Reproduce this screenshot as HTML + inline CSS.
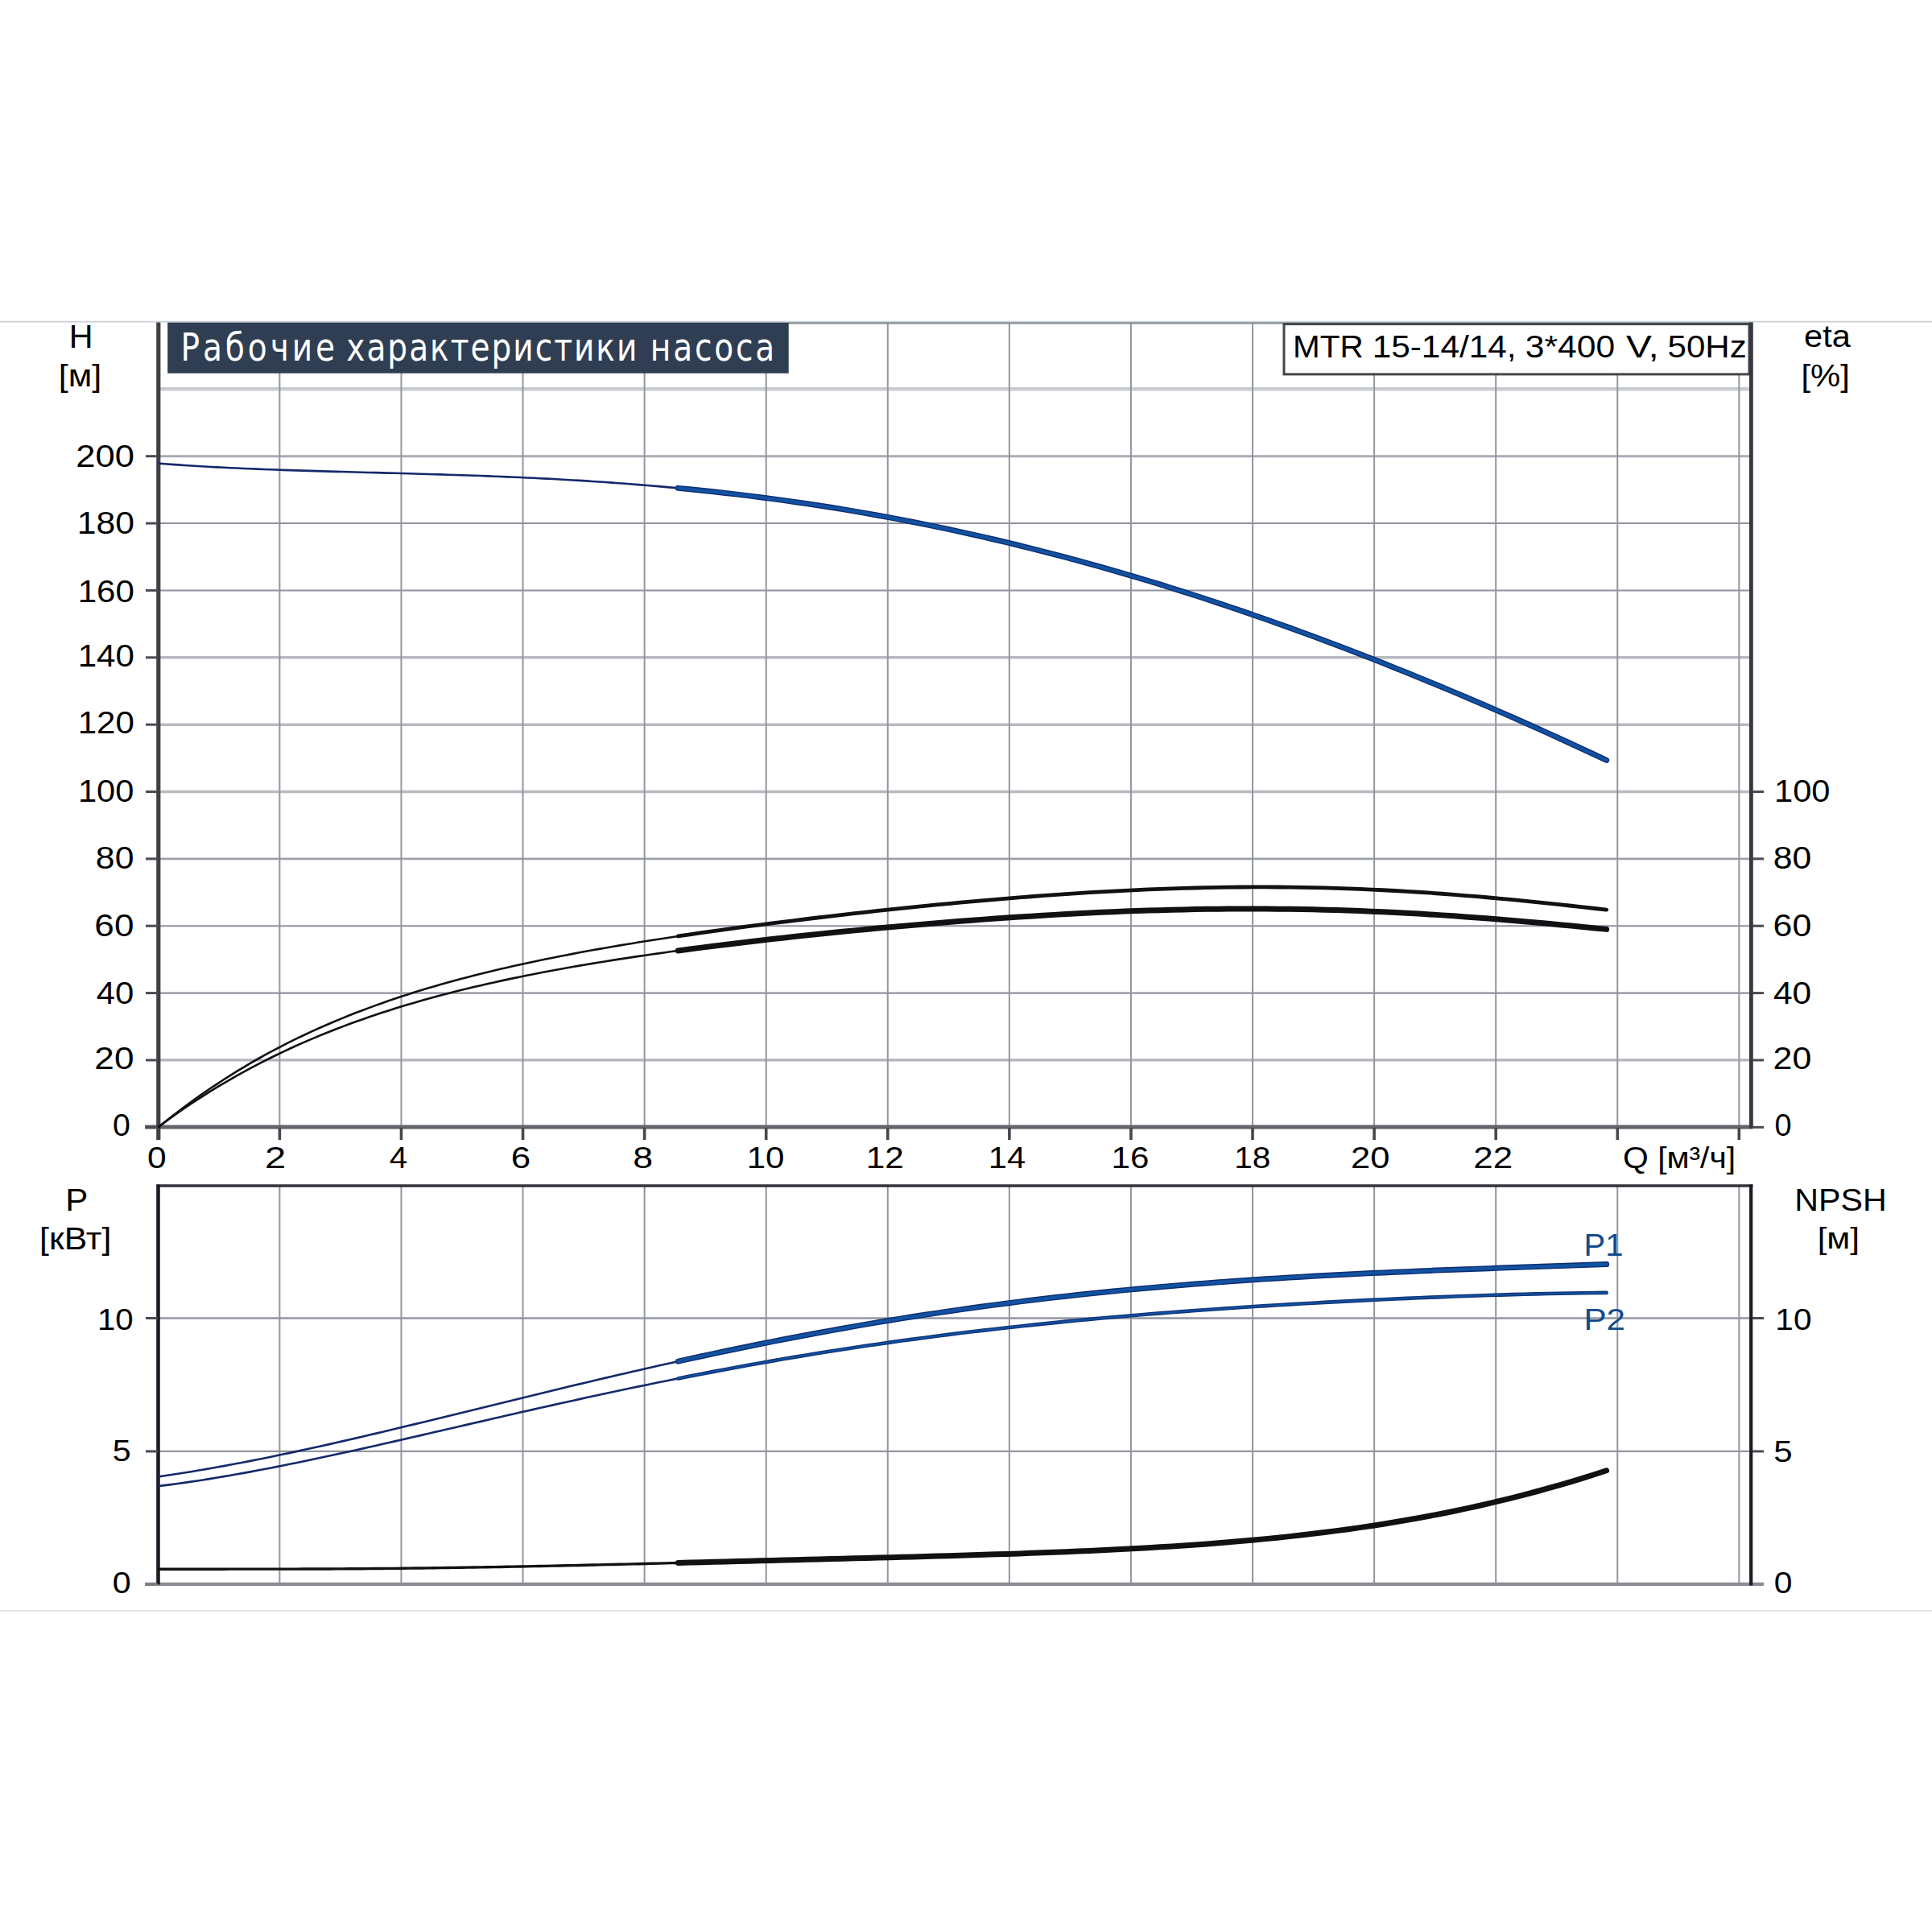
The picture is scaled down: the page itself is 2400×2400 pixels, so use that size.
<!DOCTYPE html>
<html lang="ru"><head><meta charset="utf-8"><title>Рабочие характеристики насоса</title>
<style>html,body{margin:0;padding:0;background:#fff;width:2400px;height:2400px;overflow:hidden}</style>
</head><body>
<svg width="2400" height="2400" viewBox="0 0 2400 2400" style="display:block">
<rect width="2400" height="2400" fill="#ffffff"/>
<line x1="0.00" y1="399.60" x2="2400.00" y2="399.60" stroke="#c9d0d6" stroke-width="1.8" stroke-linecap="butt"/>
<line x1="0.00" y1="2001.00" x2="2400.00" y2="2001.00" stroke="#e0e4e7" stroke-width="2" stroke-linecap="butt"/>
<line x1="196.00" y1="1316.94" x2="2175.00" y2="1316.94" stroke="#b2b5bb" stroke-width="3.2" stroke-linecap="butt"/>
<line x1="196.00" y1="1233.58" x2="2175.00" y2="1233.58" stroke="#8e929b" stroke-width="2.2" stroke-linecap="butt"/>
<line x1="196.00" y1="1150.22" x2="2175.00" y2="1150.22" stroke="#8e929b" stroke-width="2.0" stroke-linecap="butt"/>
<line x1="196.00" y1="1066.86" x2="2175.00" y2="1066.86" stroke="#9da1a9" stroke-width="2.6" stroke-linecap="butt"/>
<line x1="196.00" y1="983.50" x2="2175.00" y2="983.50" stroke="#b7bac0" stroke-width="3.5" stroke-linecap="butt"/>
<line x1="196.00" y1="900.14" x2="2175.00" y2="900.14" stroke="#b7bac0" stroke-width="3.5" stroke-linecap="butt"/>
<line x1="196.00" y1="816.78" x2="2175.00" y2="816.78" stroke="#b7bac0" stroke-width="3.5" stroke-linecap="butt"/>
<line x1="196.00" y1="733.42" x2="2175.00" y2="733.42" stroke="#8e929b" stroke-width="2.0" stroke-linecap="butt"/>
<line x1="196.00" y1="650.06" x2="2175.00" y2="650.06" stroke="#8e929b" stroke-width="2.0" stroke-linecap="butt"/>
<line x1="196.00" y1="566.70" x2="2175.00" y2="566.70" stroke="#a9acb4" stroke-width="3.0" stroke-linecap="butt"/>
<line x1="196.00" y1="483.34" x2="2175.00" y2="483.34" stroke="#c8cbd0" stroke-width="4.5" stroke-linecap="butt"/>
<line x1="347.38" y1="401.00" x2="347.38" y2="1400.00" stroke="#92969f" stroke-width="2.0" stroke-linecap="butt"/>
<line x1="498.46" y1="401.00" x2="498.46" y2="1400.00" stroke="#92969f" stroke-width="2.0" stroke-linecap="butt"/>
<line x1="649.54" y1="401.00" x2="649.54" y2="1400.00" stroke="#92969f" stroke-width="2.0" stroke-linecap="butt"/>
<line x1="800.62" y1="401.00" x2="800.62" y2="1400.00" stroke="#92969f" stroke-width="2.0" stroke-linecap="butt"/>
<line x1="951.70" y1="401.00" x2="951.70" y2="1400.00" stroke="#92969f" stroke-width="2.0" stroke-linecap="butt"/>
<line x1="1102.78" y1="401.00" x2="1102.78" y2="1400.00" stroke="#92969f" stroke-width="2.0" stroke-linecap="butt"/>
<line x1="1253.86" y1="401.00" x2="1253.86" y2="1400.00" stroke="#92969f" stroke-width="2.0" stroke-linecap="butt"/>
<line x1="1404.94" y1="401.00" x2="1404.94" y2="1400.00" stroke="#92969f" stroke-width="2.0" stroke-linecap="butt"/>
<line x1="1556.02" y1="401.00" x2="1556.02" y2="1400.00" stroke="#92969f" stroke-width="2.0" stroke-linecap="butt"/>
<line x1="1707.10" y1="401.00" x2="1707.10" y2="1400.00" stroke="#92969f" stroke-width="2.0" stroke-linecap="butt"/>
<line x1="1858.18" y1="401.00" x2="1858.18" y2="1400.00" stroke="#92969f" stroke-width="2.0" stroke-linecap="butt"/>
<line x1="2009.26" y1="401.00" x2="2009.26" y2="1400.00" stroke="#92969f" stroke-width="2.0" stroke-linecap="butt"/>
<line x1="2160.34" y1="401.00" x2="2160.34" y2="1400.00" stroke="#92969f" stroke-width="2.0" stroke-linecap="butt"/>
<line x1="208.00" y1="401.40" x2="2177.00" y2="401.40" stroke="#858b91" stroke-width="2.4" stroke-linecap="butt"/>
<rect x="208.2" y="401.0" width="771.5" height="62.7" fill="#2f3e52"/>
<rect x="1595" y="402.6" width="578" height="62.3" fill="#ffffff" stroke="#45454c" stroke-width="3"/>
<line x1="180.00" y1="1400.00" x2="2177.00" y2="1400.00" stroke="#646369" stroke-width="4.8" stroke-linecap="butt"/>
<line x1="196.80" y1="400.50" x2="196.80" y2="1416.00" stroke="#414047" stroke-width="5.2" stroke-linecap="butt"/>
<line x1="2175.40" y1="400.50" x2="2175.40" y2="1402.00" stroke="#38373f" stroke-width="4.8" stroke-linecap="butt"/>
<line x1="347.38" y1="1401.00" x2="347.38" y2="1416.00" stroke="#48474f" stroke-width="3.6" stroke-linecap="butt"/>
<line x1="498.46" y1="1401.00" x2="498.46" y2="1416.00" stroke="#48474f" stroke-width="3.6" stroke-linecap="butt"/>
<line x1="649.54" y1="1401.00" x2="649.54" y2="1416.00" stroke="#48474f" stroke-width="3.6" stroke-linecap="butt"/>
<line x1="800.62" y1="1401.00" x2="800.62" y2="1416.00" stroke="#48474f" stroke-width="3.6" stroke-linecap="butt"/>
<line x1="951.70" y1="1401.00" x2="951.70" y2="1416.00" stroke="#48474f" stroke-width="3.6" stroke-linecap="butt"/>
<line x1="1102.78" y1="1401.00" x2="1102.78" y2="1416.00" stroke="#48474f" stroke-width="3.6" stroke-linecap="butt"/>
<line x1="1253.86" y1="1401.00" x2="1253.86" y2="1416.00" stroke="#48474f" stroke-width="3.6" stroke-linecap="butt"/>
<line x1="1404.94" y1="1401.00" x2="1404.94" y2="1416.00" stroke="#48474f" stroke-width="3.6" stroke-linecap="butt"/>
<line x1="1556.02" y1="1401.00" x2="1556.02" y2="1416.00" stroke="#48474f" stroke-width="3.6" stroke-linecap="butt"/>
<line x1="1707.10" y1="1401.00" x2="1707.10" y2="1416.00" stroke="#48474f" stroke-width="3.6" stroke-linecap="butt"/>
<line x1="1858.18" y1="1401.00" x2="1858.18" y2="1416.00" stroke="#48474f" stroke-width="3.6" stroke-linecap="butt"/>
<line x1="2009.26" y1="1401.00" x2="2009.26" y2="1416.00" stroke="#48474f" stroke-width="3.6" stroke-linecap="butt"/>
<line x1="2160.34" y1="1401.00" x2="2160.34" y2="1416.00" stroke="#48474f" stroke-width="3.6" stroke-linecap="butt"/>
<line x1="181.00" y1="1400.30" x2="196.00" y2="1400.30" stroke="#4a4a50" stroke-width="3" stroke-linecap="butt"/>
<line x1="181.00" y1="1316.94" x2="196.00" y2="1316.94" stroke="#4a4a50" stroke-width="3" stroke-linecap="butt"/>
<line x1="181.00" y1="1233.58" x2="196.00" y2="1233.58" stroke="#4a4a50" stroke-width="3" stroke-linecap="butt"/>
<line x1="181.00" y1="1150.22" x2="196.00" y2="1150.22" stroke="#4a4a50" stroke-width="3" stroke-linecap="butt"/>
<line x1="181.00" y1="1066.86" x2="196.00" y2="1066.86" stroke="#4a4a50" stroke-width="3" stroke-linecap="butt"/>
<line x1="181.00" y1="983.50" x2="196.00" y2="983.50" stroke="#4a4a50" stroke-width="3" stroke-linecap="butt"/>
<line x1="181.00" y1="900.14" x2="196.00" y2="900.14" stroke="#4a4a50" stroke-width="3" stroke-linecap="butt"/>
<line x1="181.00" y1="816.78" x2="196.00" y2="816.78" stroke="#4a4a50" stroke-width="3" stroke-linecap="butt"/>
<line x1="181.00" y1="733.42" x2="196.00" y2="733.42" stroke="#4a4a50" stroke-width="3" stroke-linecap="butt"/>
<line x1="181.00" y1="650.06" x2="196.00" y2="650.06" stroke="#4a4a50" stroke-width="3" stroke-linecap="butt"/>
<line x1="181.00" y1="566.70" x2="196.00" y2="566.70" stroke="#4a4a50" stroke-width="3" stroke-linecap="butt"/>
<line x1="2177.00" y1="1400.30" x2="2191.00" y2="1400.30" stroke="#4a4a50" stroke-width="3" stroke-linecap="butt"/>
<line x1="2177.00" y1="1316.94" x2="2191.00" y2="1316.94" stroke="#4a4a50" stroke-width="3" stroke-linecap="butt"/>
<line x1="2177.00" y1="1233.58" x2="2191.00" y2="1233.58" stroke="#4a4a50" stroke-width="3" stroke-linecap="butt"/>
<line x1="2177.00" y1="1150.22" x2="2191.00" y2="1150.22" stroke="#4a4a50" stroke-width="3" stroke-linecap="butt"/>
<line x1="2177.00" y1="1066.86" x2="2191.00" y2="1066.86" stroke="#4a4a50" stroke-width="3" stroke-linecap="butt"/>
<line x1="2177.00" y1="983.50" x2="2191.00" y2="983.50" stroke="#4a4a50" stroke-width="3" stroke-linecap="butt"/>
<line x1="196.00" y1="1802.90" x2="2175.00" y2="1802.90" stroke="#92969f" stroke-width="2.4" stroke-linecap="butt"/>
<line x1="196.00" y1="1637.50" x2="2175.00" y2="1637.50" stroke="#92969f" stroke-width="2.4" stroke-linecap="butt"/>
<line x1="347.38" y1="1473.00" x2="347.38" y2="1968.00" stroke="#92969f" stroke-width="2.0" stroke-linecap="butt"/>
<line x1="498.46" y1="1473.00" x2="498.46" y2="1968.00" stroke="#92969f" stroke-width="2.0" stroke-linecap="butt"/>
<line x1="649.54" y1="1473.00" x2="649.54" y2="1968.00" stroke="#92969f" stroke-width="2.0" stroke-linecap="butt"/>
<line x1="800.62" y1="1473.00" x2="800.62" y2="1968.00" stroke="#92969f" stroke-width="2.0" stroke-linecap="butt"/>
<line x1="951.70" y1="1473.00" x2="951.70" y2="1968.00" stroke="#92969f" stroke-width="2.0" stroke-linecap="butt"/>
<line x1="1102.78" y1="1473.00" x2="1102.78" y2="1968.00" stroke="#92969f" stroke-width="2.0" stroke-linecap="butt"/>
<line x1="1253.86" y1="1473.00" x2="1253.86" y2="1968.00" stroke="#92969f" stroke-width="2.0" stroke-linecap="butt"/>
<line x1="1404.94" y1="1473.00" x2="1404.94" y2="1968.00" stroke="#92969f" stroke-width="2.0" stroke-linecap="butt"/>
<line x1="1556.02" y1="1473.00" x2="1556.02" y2="1968.00" stroke="#92969f" stroke-width="2.0" stroke-linecap="butt"/>
<line x1="1707.10" y1="1473.00" x2="1707.10" y2="1968.00" stroke="#92969f" stroke-width="2.0" stroke-linecap="butt"/>
<line x1="1858.18" y1="1473.00" x2="1858.18" y2="1968.00" stroke="#92969f" stroke-width="2.0" stroke-linecap="butt"/>
<line x1="2009.26" y1="1473.00" x2="2009.26" y2="1968.00" stroke="#92969f" stroke-width="2.0" stroke-linecap="butt"/>
<line x1="2160.34" y1="1473.00" x2="2160.34" y2="1968.00" stroke="#92969f" stroke-width="2.0" stroke-linecap="butt"/>
<line x1="194.50" y1="1473.00" x2="2177.50" y2="1473.00" stroke="#333238" stroke-width="3.6" stroke-linecap="butt"/>
<line x1="180.00" y1="1967.80" x2="2191.00" y2="1967.80" stroke="#8c8d94" stroke-width="4.3" stroke-linecap="butt"/>
<line x1="196.50" y1="1471.50" x2="196.50" y2="1968.50" stroke="#1e1c24" stroke-width="4.6" stroke-linecap="butt"/>
<line x1="2175.20" y1="1471.50" x2="2175.20" y2="1969.50" stroke="#1e1b24" stroke-width="4.2" stroke-linecap="butt"/>
<line x1="181.00" y1="1802.90" x2="196.00" y2="1802.90" stroke="#4a4a50" stroke-width="3" stroke-linecap="butt"/>
<line x1="2177.00" y1="1802.90" x2="2191.00" y2="1802.90" stroke="#4a4a50" stroke-width="3" stroke-linecap="butt"/>
<line x1="181.00" y1="1637.50" x2="196.00" y2="1637.50" stroke="#4a4a50" stroke-width="3" stroke-linecap="butt"/>
<line x1="2177.00" y1="1637.50" x2="2191.00" y2="1637.50" stroke="#4a4a50" stroke-width="3" stroke-linecap="butt"/>
<line x1="181.00" y1="1968.30" x2="196.00" y2="1968.30" stroke="#7b7c82" stroke-width="3" stroke-linecap="butt"/>
<path d="M196.30,575.60 L204.48,576.23 L212.66,576.83 L220.84,577.41 L229.01,577.96 L237.19,578.49 L245.37,578.99 L253.55,579.47 L261.73,579.93 L269.91,580.37 L278.08,580.79 L286.26,581.19 L294.44,581.57 L302.62,581.94 L310.80,582.29 L318.98,582.63 L327.15,582.95 L335.33,583.26 L343.51,583.56 L351.69,583.84 L359.87,584.12 L368.05,584.39 L376.22,584.65 L384.40,584.90 L392.58,585.14 L400.76,585.38 L408.94,585.61 L417.12,585.84 L425.30,586.06 L433.47,586.28 L441.65,586.50 L449.83,586.72 L458.01,586.93 L466.19,587.15 L474.37,587.36 L482.54,587.58 L490.72,587.80 L498.90,588.02 L507.08,588.24 L515.26,588.47 L523.44,588.70 L531.61,588.93 L539.79,589.18 L547.97,589.42 L556.15,589.68 L564.33,589.94 L572.51,590.21 L580.68,590.48 L588.86,590.77 L597.04,591.06 L605.22,591.37 L613.40,591.68 L621.58,592.01 L629.76,592.34 L637.93,592.69 L646.11,593.05 L654.29,593.43 L662.47,593.81 L670.65,594.21 L678.83,594.63 L687.00,595.05 L695.18,595.50 L703.36,595.95 L711.54,596.43 L719.72,596.92 L727.90,597.42 L736.07,597.94 L744.25,598.48 L752.43,599.04 L760.61,599.61 L768.79,600.20 L776.97,600.81 L785.14,601.44 L793.32,602.08 L801.50,602.75 L809.68,603.43 L817.86,604.14 L826.04,604.86 L834.22,605.61 L842.39,606.37" fill="none" stroke="#13296a" stroke-width="2.6" stroke-linecap="butt" stroke-linejoin="round"/>
<path d="M842.39,606.37 L856.99,607.79 L871.59,609.27 L886.19,610.82 L900.79,612.44 L915.39,614.13 L929.98,615.90 L944.58,617.73 L959.18,619.64 L973.78,621.62 L988.38,623.68 L1002.98,625.81 L1017.57,628.02 L1032.17,630.30 L1046.77,632.66 L1061.37,635.10 L1075.97,637.62 L1090.57,640.22 L1105.16,642.89 L1119.76,645.64 L1134.36,648.47 L1148.96,651.38 L1163.56,654.37 L1178.16,657.44 L1192.75,660.58 L1207.35,663.81 L1221.95,667.11 L1236.55,670.50 L1251.15,673.96 L1265.75,677.50 L1280.34,681.12 L1294.94,684.81 L1309.54,688.59 L1324.14,692.44 L1338.74,696.37 L1353.34,700.37 L1367.93,704.45 L1382.53,708.61 L1397.13,712.84 L1411.73,717.14 L1426.33,721.52 L1440.93,725.97 L1455.52,730.50 L1470.12,735.10 L1484.72,739.77 L1499.32,744.51 L1513.92,749.33 L1528.52,754.21 L1543.11,759.16 L1557.71,764.19 L1572.31,769.28 L1586.91,774.44 L1601.51,779.66 L1616.11,784.96 L1630.70,790.32 L1645.30,795.74 L1659.90,801.24 L1674.50,806.79 L1689.10,812.41 L1703.70,818.09 L1718.29,823.84 L1732.89,829.65 L1747.49,835.52 L1762.09,841.45 L1776.69,847.44 L1791.29,853.49 L1805.88,859.61 L1820.48,865.78 L1835.08,872.01 L1849.68,878.30 L1864.28,884.65 L1878.88,891.06 L1893.47,897.53 L1908.07,904.05 L1922.67,910.64 L1937.27,917.28 L1951.87,923.97 L1966.47,930.73 L1981.06,937.54 L1995.66,944.41" fill="none" stroke="#0d2e72" stroke-width="7.0" stroke-linecap="round" stroke-linejoin="round"/>
<path d="M842.39,606.37 L856.99,607.79 L871.59,609.27 L886.19,610.82 L900.79,612.44 L915.39,614.13 L929.98,615.90 L944.58,617.73 L959.18,619.64 L973.78,621.62 L988.38,623.68 L1002.98,625.81 L1017.57,628.02 L1032.17,630.30 L1046.77,632.66 L1061.37,635.10 L1075.97,637.62 L1090.57,640.22 L1105.16,642.89 L1119.76,645.64 L1134.36,648.47 L1148.96,651.38 L1163.56,654.37 L1178.16,657.44 L1192.75,660.58 L1207.35,663.81 L1221.95,667.11 L1236.55,670.50 L1251.15,673.96 L1265.75,677.50 L1280.34,681.12 L1294.94,684.81 L1309.54,688.59 L1324.14,692.44 L1338.74,696.37 L1353.34,700.37 L1367.93,704.45 L1382.53,708.61 L1397.13,712.84 L1411.73,717.14 L1426.33,721.52 L1440.93,725.97 L1455.52,730.50 L1470.12,735.10 L1484.72,739.77 L1499.32,744.51 L1513.92,749.33 L1528.52,754.21 L1543.11,759.16 L1557.71,764.19 L1572.31,769.28 L1586.91,774.44 L1601.51,779.66 L1616.11,784.96 L1630.70,790.32 L1645.30,795.74 L1659.90,801.24 L1674.50,806.79 L1689.10,812.41 L1703.70,818.09 L1718.29,823.84 L1732.89,829.65 L1747.49,835.52 L1762.09,841.45 L1776.69,847.44 L1791.29,853.49 L1805.88,859.61 L1820.48,865.78 L1835.08,872.01 L1849.68,878.30 L1864.28,884.65 L1878.88,891.06 L1893.47,897.53 L1908.07,904.05 L1922.67,910.64 L1937.27,917.28 L1951.87,923.97 L1966.47,930.73 L1981.06,937.54 L1995.66,944.41" fill="none" stroke="#1252a0" stroke-width="4.2" stroke-linecap="round" stroke-linejoin="round"/>
<path d="M196.30,1400.83 L204.48,1394.15 L212.66,1387.63 L220.84,1381.28 L229.01,1375.08 L237.19,1369.04 L245.37,1363.14 L253.55,1357.39 L261.73,1351.78 L269.91,1346.32 L278.08,1340.98 L286.26,1335.78 L294.44,1330.72 L302.62,1325.77 L310.80,1320.95 L318.98,1316.25 L327.15,1311.67 L335.33,1307.20 L343.51,1302.85 L351.69,1298.60 L359.87,1294.46 L368.05,1290.42 L376.22,1286.49 L384.40,1282.65 L392.58,1278.90 L400.76,1275.25 L408.94,1271.69 L417.12,1268.22 L425.30,1264.83 L433.47,1261.53 L441.65,1258.31 L449.83,1255.17 L458.01,1252.10 L466.19,1249.11 L474.37,1246.19 L482.54,1243.33 L490.72,1240.55 L498.90,1237.84 L507.08,1235.18 L515.26,1232.59 L523.44,1230.07 L531.61,1227.59 L539.79,1225.18 L547.97,1222.82 L556.15,1220.52 L564.33,1218.26 L572.51,1216.06 L580.68,1213.90 L588.86,1211.80 L597.04,1209.73 L605.22,1207.71 L613.40,1205.74 L621.58,1203.80 L629.76,1201.91 L637.93,1200.05 L646.11,1198.23 L654.29,1196.45 L662.47,1194.70 L670.65,1192.98 L678.83,1191.30 L687.00,1189.65 L695.18,1188.03 L703.36,1186.44 L711.54,1184.87 L719.72,1183.34 L727.90,1181.82 L736.07,1180.34 L744.25,1178.88 L752.43,1177.44 L760.61,1176.03 L768.79,1174.63 L776.97,1173.26 L785.14,1171.91 L793.32,1170.58 L801.50,1169.27 L809.68,1167.97 L817.86,1166.70 L826.04,1165.44 L834.22,1164.19 L842.39,1162.97" fill="none" stroke="#111114" stroke-width="2.6" stroke-linecap="butt" stroke-linejoin="round"/>
<path d="M842.39,1162.97 L856.99,1160.81 L871.59,1158.71 L886.19,1156.65 L900.79,1154.63 L915.39,1152.64 L929.98,1150.70 L944.58,1148.79 L959.18,1146.92 L973.78,1145.08 L988.38,1143.27 L1002.98,1141.50 L1017.57,1139.75 L1032.17,1138.04 L1046.77,1136.35 L1061.37,1134.70 L1075.97,1133.07 L1090.57,1131.48 L1105.16,1129.91 L1119.76,1128.38 L1134.36,1126.87 L1148.96,1125.40 L1163.56,1123.96 L1178.16,1122.56 L1192.75,1121.19 L1207.35,1119.85 L1221.95,1118.55 L1236.55,1117.29 L1251.15,1116.07 L1265.75,1114.89 L1280.34,1113.75 L1294.94,1112.65 L1309.54,1111.60 L1324.14,1110.59 L1338.74,1109.63 L1353.34,1108.72 L1367.93,1107.86 L1382.53,1107.05 L1397.13,1106.30 L1411.73,1105.60 L1426.33,1104.96 L1440.93,1104.38 L1455.52,1103.85 L1470.12,1103.39 L1484.72,1102.99 L1499.32,1102.65 L1513.92,1102.37 L1528.52,1102.16 L1543.11,1102.02 L1557.71,1101.95 L1572.31,1101.94 L1586.91,1102.01 L1601.51,1102.14 L1616.11,1102.34 L1630.70,1102.62 L1645.30,1102.96 L1659.90,1103.38 L1674.50,1103.86 L1689.10,1104.42 L1703.70,1105.05 L1718.29,1105.75 L1732.89,1106.52 L1747.49,1107.35 L1762.09,1108.26 L1776.69,1109.23 L1791.29,1110.26 L1805.88,1111.36 L1820.48,1112.52 L1835.08,1113.73 L1849.68,1115.01 L1864.28,1116.33 L1878.88,1117.71 L1893.47,1119.14 L1908.07,1120.61 L1922.67,1122.12 L1937.27,1123.67 L1951.87,1125.25 L1966.47,1126.86 L1981.06,1128.50 L1995.66,1130.15" fill="none" stroke="#111114" stroke-width="4.8" stroke-linecap="round" stroke-linejoin="round"/>
<path d="M196.30,1400.16 L204.48,1394.08 L212.66,1388.15 L220.84,1382.35 L229.01,1376.70 L237.19,1371.18 L245.37,1365.80 L253.55,1360.54 L261.73,1355.41 L269.91,1350.41 L278.08,1345.53 L286.26,1340.76 L294.44,1336.11 L302.62,1331.58 L310.80,1327.15 L318.98,1322.83 L327.15,1318.62 L335.33,1314.51 L343.51,1310.50 L351.69,1306.59 L359.87,1302.77 L368.05,1299.04 L376.22,1295.41 L384.40,1291.86 L392.58,1288.41 L400.76,1285.03 L408.94,1281.74 L417.12,1278.52 L425.30,1275.38 L433.47,1272.32 L441.65,1269.34 L449.83,1266.42 L458.01,1263.57 L466.19,1260.79 L474.37,1258.08 L482.54,1255.43 L490.72,1252.85 L498.90,1250.32 L507.08,1247.85 L515.26,1245.44 L523.44,1243.09 L531.61,1240.79 L539.79,1238.54 L547.97,1236.35 L556.15,1234.20 L564.33,1232.10 L572.51,1230.05 L580.68,1228.04 L588.86,1226.08 L597.04,1224.16 L605.22,1222.28 L613.40,1220.44 L621.58,1218.63 L629.76,1216.87 L637.93,1215.14 L646.11,1213.45 L654.29,1211.79 L662.47,1210.17 L670.65,1208.58 L678.83,1207.01 L687.00,1205.48 L695.18,1203.98 L703.36,1202.50 L711.54,1201.06 L719.72,1199.64 L727.90,1198.24 L736.07,1196.87 L744.25,1195.52 L752.43,1194.20 L760.61,1192.90 L768.79,1191.62 L776.97,1190.36 L785.14,1189.12 L793.32,1187.90 L801.50,1186.70 L809.68,1185.51 L817.86,1184.35 L826.04,1183.20 L834.22,1182.07 L842.39,1180.96" fill="none" stroke="#111114" stroke-width="2.6" stroke-linecap="butt" stroke-linejoin="round"/>
<path d="M842.39,1180.96 L856.99,1179.01 L871.59,1177.11 L886.19,1175.25 L900.79,1173.43 L915.39,1171.66 L929.98,1169.92 L944.58,1168.23 L959.18,1166.57 L973.78,1164.94 L988.38,1163.35 L1002.98,1161.79 L1017.57,1160.26 L1032.17,1158.76 L1046.77,1157.30 L1061.37,1155.86 L1075.97,1154.46 L1090.57,1153.08 L1105.16,1151.74 L1119.76,1150.43 L1134.36,1149.14 L1148.96,1147.89 L1163.56,1146.67 L1178.16,1145.49 L1192.75,1144.33 L1207.35,1143.21 L1221.95,1142.12 L1236.55,1141.07 L1251.15,1140.06 L1265.75,1139.08 L1280.34,1138.14 L1294.94,1137.24 L1309.54,1136.38 L1324.14,1135.56 L1338.74,1134.78 L1353.34,1134.05 L1367.93,1133.36 L1382.53,1132.72 L1397.13,1132.12 L1411.73,1131.58 L1426.33,1131.08 L1440.93,1130.63 L1455.52,1130.23 L1470.12,1129.89 L1484.72,1129.60 L1499.32,1129.36 L1513.92,1129.18 L1528.52,1129.06 L1543.11,1128.99 L1557.71,1128.98 L1572.31,1129.03 L1586.91,1129.14 L1601.51,1129.31 L1616.11,1129.53 L1630.70,1129.82 L1645.30,1130.17 L1659.90,1130.57 L1674.50,1131.04 L1689.10,1131.57 L1703.70,1132.15 L1718.29,1132.80 L1732.89,1133.50 L1747.49,1134.26 L1762.09,1135.08 L1776.69,1135.95 L1791.29,1136.88 L1805.88,1137.86 L1820.48,1138.89 L1835.08,1139.97 L1849.68,1141.10 L1864.28,1142.27 L1878.88,1143.48 L1893.47,1144.74 L1908.07,1146.03 L1922.67,1147.36 L1937.27,1148.72 L1951.87,1150.10 L1966.47,1151.51 L1981.06,1152.93 L1995.66,1154.38" fill="none" stroke="#111114" stroke-width="7.0" stroke-linecap="round" stroke-linejoin="round"/>
<path d="M196.30,1834.37 L204.48,1833.21 L212.66,1832.00 L220.84,1830.76 L229.01,1829.48 L237.19,1828.17 L245.37,1826.82 L253.55,1825.44 L261.73,1824.02 L269.91,1822.57 L278.08,1821.10 L286.26,1819.59 L294.44,1818.06 L302.62,1816.49 L310.80,1814.90 L318.98,1813.29 L327.15,1811.65 L335.33,1809.99 L343.51,1808.30 L351.69,1806.60 L359.87,1804.87 L368.05,1803.12 L376.22,1801.35 L384.40,1799.57 L392.58,1797.76 L400.76,1795.94 L408.94,1794.11 L417.12,1792.25 L425.30,1790.39 L433.47,1788.51 L441.65,1786.62 L449.83,1784.71 L458.01,1782.80 L466.19,1780.87 L474.37,1778.94 L482.54,1776.99 L490.72,1775.04 L498.90,1773.08 L507.08,1771.11 L515.26,1769.13 L523.44,1767.15 L531.61,1765.17 L539.79,1763.18 L547.97,1761.18 L556.15,1759.19 L564.33,1757.18 L572.51,1755.18 L580.68,1753.18 L588.86,1751.17 L597.04,1749.17 L605.22,1747.16 L613.40,1745.16 L621.58,1743.15 L629.76,1741.15 L637.93,1739.15 L646.11,1737.16 L654.29,1735.16 L662.47,1733.17 L670.65,1731.18 L678.83,1729.20 L687.00,1727.23 L695.18,1725.25 L703.36,1723.29 L711.54,1721.33 L719.72,1719.38 L727.90,1717.43 L736.07,1715.49 L744.25,1713.56 L752.43,1711.64 L760.61,1709.72 L768.79,1707.82 L776.97,1705.92 L785.14,1704.03 L793.32,1702.16 L801.50,1700.29 L809.68,1698.43 L817.86,1696.59 L826.04,1694.75 L834.22,1692.93 L842.39,1691.12" fill="none" stroke="#13296a" stroke-width="2.6" stroke-linecap="butt" stroke-linejoin="round"/>
<path d="M842.39,1691.12 L856.99,1687.91 L871.59,1684.75 L886.19,1681.62 L900.79,1678.54 L915.39,1675.49 L929.98,1672.50 L944.58,1669.54 L959.18,1666.64 L973.78,1663.78 L988.38,1660.97 L1002.98,1658.20 L1017.57,1655.49 L1032.17,1652.82 L1046.77,1650.20 L1061.37,1647.64 L1075.97,1645.12 L1090.57,1642.66 L1105.16,1640.24 L1119.76,1637.88 L1134.36,1635.57 L1148.96,1633.32 L1163.56,1631.11 L1178.16,1628.95 L1192.75,1626.85 L1207.35,1624.80 L1221.95,1622.80 L1236.55,1620.85 L1251.15,1618.95 L1265.75,1617.10 L1280.34,1615.30 L1294.94,1613.55 L1309.54,1611.85 L1324.14,1610.20 L1338.74,1608.60 L1353.34,1607.04 L1367.93,1605.53 L1382.53,1604.06 L1397.13,1602.64 L1411.73,1601.27 L1426.33,1599.94 L1440.93,1598.65 L1455.52,1597.40 L1470.12,1596.19 L1484.72,1595.02 L1499.32,1593.90 L1513.92,1592.81 L1528.52,1591.75 L1543.11,1590.74 L1557.71,1589.75 L1572.31,1588.80 L1586.91,1587.89 L1601.51,1587.00 L1616.11,1586.15 L1630.70,1585.32 L1645.30,1584.53 L1659.90,1583.76 L1674.50,1583.01 L1689.10,1582.29 L1703.70,1581.59 L1718.29,1580.92 L1732.89,1580.26 L1747.49,1579.63 L1762.09,1579.01 L1776.69,1578.41 L1791.29,1577.83 L1805.88,1577.26 L1820.48,1576.70 L1835.08,1576.16 L1849.68,1575.63 L1864.28,1575.10 L1878.88,1574.59 L1893.47,1574.08 L1908.07,1573.57 L1922.67,1573.07 L1937.27,1572.58 L1951.87,1572.09 L1966.47,1571.59 L1981.06,1571.10 L1995.66,1570.61" fill="none" stroke="#0d2e72" stroke-width="7.0" stroke-linecap="round" stroke-linejoin="round"/>
<path d="M842.39,1691.12 L856.99,1687.91 L871.59,1684.75 L886.19,1681.62 L900.79,1678.54 L915.39,1675.49 L929.98,1672.50 L944.58,1669.54 L959.18,1666.64 L973.78,1663.78 L988.38,1660.97 L1002.98,1658.20 L1017.57,1655.49 L1032.17,1652.82 L1046.77,1650.20 L1061.37,1647.64 L1075.97,1645.12 L1090.57,1642.66 L1105.16,1640.24 L1119.76,1637.88 L1134.36,1635.57 L1148.96,1633.32 L1163.56,1631.11 L1178.16,1628.95 L1192.75,1626.85 L1207.35,1624.80 L1221.95,1622.80 L1236.55,1620.85 L1251.15,1618.95 L1265.75,1617.10 L1280.34,1615.30 L1294.94,1613.55 L1309.54,1611.85 L1324.14,1610.20 L1338.74,1608.60 L1353.34,1607.04 L1367.93,1605.53 L1382.53,1604.06 L1397.13,1602.64 L1411.73,1601.27 L1426.33,1599.94 L1440.93,1598.65 L1455.52,1597.40 L1470.12,1596.19 L1484.72,1595.02 L1499.32,1593.90 L1513.92,1592.81 L1528.52,1591.75 L1543.11,1590.74 L1557.71,1589.75 L1572.31,1588.80 L1586.91,1587.89 L1601.51,1587.00 L1616.11,1586.15 L1630.70,1585.32 L1645.30,1584.53 L1659.90,1583.76 L1674.50,1583.01 L1689.10,1582.29 L1703.70,1581.59 L1718.29,1580.92 L1732.89,1580.26 L1747.49,1579.63 L1762.09,1579.01 L1776.69,1578.41 L1791.29,1577.83 L1805.88,1577.26 L1820.48,1576.70 L1835.08,1576.16 L1849.68,1575.63 L1864.28,1575.10 L1878.88,1574.59 L1893.47,1574.08 L1908.07,1573.57 L1922.67,1573.07 L1937.27,1572.58 L1951.87,1572.09 L1966.47,1571.59 L1981.06,1571.10 L1995.66,1570.61" fill="none" stroke="#1252a0" stroke-width="4.2" stroke-linecap="round" stroke-linejoin="round"/>
<path d="M196.30,1846.16 L204.48,1845.15 L212.66,1844.09 L220.84,1842.98 L229.01,1841.84 L237.19,1840.65 L245.37,1839.42 L253.55,1838.16 L261.73,1836.86 L269.91,1835.52 L278.08,1834.15 L286.26,1832.75 L294.44,1831.31 L302.62,1829.85 L310.80,1828.36 L318.98,1826.83 L327.15,1825.29 L335.33,1823.71 L343.51,1822.11 L351.69,1820.49 L359.87,1818.85 L368.05,1817.19 L376.22,1815.50 L384.40,1813.80 L392.58,1812.08 L400.76,1810.34 L408.94,1808.59 L417.12,1806.82 L425.30,1805.04 L433.47,1803.24 L441.65,1801.43 L449.83,1799.61 L458.01,1797.78 L466.19,1795.95 L474.37,1794.10 L482.54,1792.24 L490.72,1790.38 L498.90,1788.51 L507.08,1786.64 L515.26,1784.76 L523.44,1782.88 L531.61,1780.99 L539.79,1779.10 L547.97,1777.21 L556.15,1775.32 L564.33,1773.43 L572.51,1771.54 L580.68,1769.64 L588.86,1767.75 L597.04,1765.86 L605.22,1763.98 L613.40,1762.10 L621.58,1760.22 L629.76,1758.34 L637.93,1756.47 L646.11,1754.60 L654.29,1752.74 L662.47,1750.89 L670.65,1749.04 L678.83,1747.20 L687.00,1745.36 L695.18,1743.54 L703.36,1741.72 L711.54,1739.91 L719.72,1738.11 L727.90,1736.32 L736.07,1734.54 L744.25,1732.77 L752.43,1731.00 L760.61,1729.25 L768.79,1727.51 L776.97,1725.78 L785.14,1724.07 L793.32,1722.36 L801.50,1720.67 L809.68,1718.99 L817.86,1717.32 L826.04,1715.66 L834.22,1714.02 L842.39,1712.39" fill="none" stroke="#13296a" stroke-width="2.6" stroke-linecap="butt" stroke-linejoin="round"/>
<path d="M842.39,1712.39 L856.99,1709.51 L871.59,1706.67 L886.19,1703.88 L900.79,1701.14 L915.39,1698.44 L929.98,1695.78 L944.58,1693.18 L959.18,1690.62 L973.78,1688.10 L988.38,1685.64 L1002.98,1683.22 L1017.57,1680.85 L1032.17,1678.53 L1046.77,1676.25 L1061.37,1674.03 L1075.97,1671.85 L1090.57,1669.72 L1105.16,1667.63 L1119.76,1665.59 L1134.36,1663.60 L1148.96,1661.66 L1163.56,1659.76 L1178.16,1657.90 L1192.75,1656.09 L1207.35,1654.32 L1221.95,1652.60 L1236.55,1650.91 L1251.15,1649.27 L1265.75,1647.67 L1280.34,1646.11 L1294.94,1644.59 L1309.54,1643.11 L1324.14,1641.66 L1338.74,1640.26 L1353.34,1638.89 L1367.93,1637.55 L1382.53,1636.25 L1397.13,1634.98 L1411.73,1633.75 L1426.33,1632.55 L1440.93,1631.37 L1455.52,1630.23 L1470.12,1629.12 L1484.72,1628.04 L1499.32,1626.99 L1513.92,1625.96 L1528.52,1624.96 L1543.11,1623.99 L1557.71,1623.04 L1572.31,1622.12 L1586.91,1621.23 L1601.51,1620.35 L1616.11,1619.51 L1630.70,1618.68 L1645.30,1617.88 L1659.90,1617.10 L1674.50,1616.34 L1689.10,1615.61 L1703.70,1614.89 L1718.29,1614.20 L1732.89,1613.54 L1747.49,1612.89 L1762.09,1612.27 L1776.69,1611.67 L1791.29,1611.09 L1805.88,1610.54 L1820.48,1610.01 L1835.08,1609.51 L1849.68,1609.03 L1864.28,1608.58 L1878.88,1608.15 L1893.47,1607.76 L1908.07,1607.39 L1922.67,1607.05 L1937.27,1606.75 L1951.87,1606.48 L1966.47,1606.24 L1981.06,1606.04 L1995.66,1605.88" fill="none" stroke="#0f3578" stroke-width="4.6" stroke-linecap="round" stroke-linejoin="round"/>
<path d="M842.39,1712.39 L856.99,1709.51 L871.59,1706.67 L886.19,1703.88 L900.79,1701.14 L915.39,1698.44 L929.98,1695.78 L944.58,1693.18 L959.18,1690.62 L973.78,1688.10 L988.38,1685.64 L1002.98,1683.22 L1017.57,1680.85 L1032.17,1678.53 L1046.77,1676.25 L1061.37,1674.03 L1075.97,1671.85 L1090.57,1669.72 L1105.16,1667.63 L1119.76,1665.59 L1134.36,1663.60 L1148.96,1661.66 L1163.56,1659.76 L1178.16,1657.90 L1192.75,1656.09 L1207.35,1654.32 L1221.95,1652.60 L1236.55,1650.91 L1251.15,1649.27 L1265.75,1647.67 L1280.34,1646.11 L1294.94,1644.59 L1309.54,1643.11 L1324.14,1641.66 L1338.74,1640.26 L1353.34,1638.89 L1367.93,1637.55 L1382.53,1636.25 L1397.13,1634.98 L1411.73,1633.75 L1426.33,1632.55 L1440.93,1631.37 L1455.52,1630.23 L1470.12,1629.12 L1484.72,1628.04 L1499.32,1626.99 L1513.92,1625.96 L1528.52,1624.96 L1543.11,1623.99 L1557.71,1623.04 L1572.31,1622.12 L1586.91,1621.23 L1601.51,1620.35 L1616.11,1619.51 L1630.70,1618.68 L1645.30,1617.88 L1659.90,1617.10 L1674.50,1616.34 L1689.10,1615.61 L1703.70,1614.89 L1718.29,1614.20 L1732.89,1613.54 L1747.49,1612.89 L1762.09,1612.27 L1776.69,1611.67 L1791.29,1611.09 L1805.88,1610.54 L1820.48,1610.01 L1835.08,1609.51 L1849.68,1609.03 L1864.28,1608.58 L1878.88,1608.15 L1893.47,1607.76 L1908.07,1607.39 L1922.67,1607.05 L1937.27,1606.75 L1951.87,1606.48 L1966.47,1606.24 L1981.06,1606.04 L1995.66,1605.88" fill="none" stroke="#1250a0" stroke-width="2.0" stroke-linecap="round" stroke-linejoin="round"/>
<path d="M196.30,1949.31 L204.48,1949.28 L212.66,1949.26 L220.84,1949.24 L229.01,1949.22 L237.19,1949.21 L245.37,1949.20 L253.55,1949.19 L261.73,1949.18 L269.91,1949.18 L278.08,1949.18 L286.26,1949.17 L294.44,1949.17 L302.62,1949.17 L310.80,1949.16 L318.98,1949.16 L327.15,1949.15 L335.33,1949.14 L343.51,1949.13 L351.69,1949.12 L359.87,1949.10 L368.05,1949.08 L376.22,1949.06 L384.40,1949.03 L392.58,1949.00 L400.76,1948.97 L408.94,1948.93 L417.12,1948.89 L425.30,1948.85 L433.47,1948.80 L441.65,1948.75 L449.83,1948.69 L458.01,1948.63 L466.19,1948.56 L474.37,1948.49 L482.54,1948.42 L490.72,1948.34 L498.90,1948.25 L507.08,1948.16 L515.26,1948.07 L523.44,1947.97 L531.61,1947.87 L539.79,1947.76 L547.97,1947.65 L556.15,1947.54 L564.33,1947.42 L572.51,1947.29 L580.68,1947.16 L588.86,1947.03 L597.04,1946.89 L605.22,1946.75 L613.40,1946.61 L621.58,1946.46 L629.76,1946.31 L637.93,1946.15 L646.11,1946.00 L654.29,1945.83 L662.47,1945.67 L670.65,1945.50 L678.83,1945.33 L687.00,1945.15 L695.18,1944.98 L703.36,1944.80 L711.54,1944.62 L719.72,1944.43 L727.90,1944.25 L736.07,1944.06 L744.25,1943.87 L752.43,1943.67 L760.61,1943.48 L768.79,1943.28 L776.97,1943.08 L785.14,1942.89 L793.32,1942.69 L801.50,1942.48 L809.68,1942.28 L817.86,1942.08 L826.04,1941.87 L834.22,1941.67 L842.39,1941.46" fill="none" stroke="#111114" stroke-width="3.4" stroke-linecap="butt" stroke-linejoin="round"/>
<path d="M842.39,1941.46 L856.99,1941.09 L871.59,1940.72 L886.19,1940.35 L900.79,1939.97 L915.39,1939.60 L929.98,1939.22 L944.58,1938.85 L959.18,1938.47 L973.78,1938.10 L988.38,1937.72 L1002.98,1937.34 L1017.57,1936.97 L1032.17,1936.59 L1046.77,1936.21 L1061.37,1935.83 L1075.97,1935.45 L1090.57,1935.06 L1105.16,1934.68 L1119.76,1934.28 L1134.36,1933.88 L1148.96,1933.48 L1163.56,1933.07 L1178.16,1932.65 L1192.75,1932.22 L1207.35,1931.78 L1221.95,1931.33 L1236.55,1930.86 L1251.15,1930.38 L1265.75,1929.88 L1280.34,1929.37 L1294.94,1928.83 L1309.54,1928.27 L1324.14,1927.68 L1338.74,1927.07 L1353.34,1926.43 L1367.93,1925.76 L1382.53,1925.06 L1397.13,1924.31 L1411.73,1923.53 L1426.33,1922.71 L1440.93,1921.85 L1455.52,1920.93 L1470.12,1919.97 L1484.72,1918.96 L1499.32,1917.89 L1513.92,1916.77 L1528.52,1915.58 L1543.11,1914.33 L1557.71,1913.01 L1572.31,1911.62 L1586.91,1910.16 L1601.51,1908.62 L1616.11,1907.00 L1630.70,1905.30 L1645.30,1903.51 L1659.90,1901.63 L1674.50,1899.67 L1689.10,1897.60 L1703.70,1895.44 L1718.29,1893.17 L1732.89,1890.80 L1747.49,1888.31 L1762.09,1885.72 L1776.69,1883.01 L1791.29,1880.19 L1805.88,1877.24 L1820.48,1874.17 L1835.08,1870.98 L1849.68,1867.65 L1864.28,1864.19 L1878.88,1860.60 L1893.47,1856.87 L1908.07,1853.00 L1922.67,1848.99 L1937.27,1844.84 L1951.87,1840.54 L1966.47,1836.09 L1981.06,1831.50 L1995.66,1826.75" fill="none" stroke="#111114" stroke-width="7.0" stroke-linecap="round" stroke-linejoin="round"/>
<g transform="translate(227.6,0) scale(0.9,1)"><text y="447.6" font-family='"DejaVu Sans Condensed", "DejaVu Sans", sans-serif' font-stretch="condensed" font-size="48.3" fill="#ffffff"><tspan x="-3.47" textLength="212.89" lengthAdjust="spacing">Рабочие</tspan> <tspan x="225.19" textLength="401.21" lengthAdjust="spacing">характеристики</tspan> <tspan x="644.71" textLength="171.45" lengthAdjust="spacing">насоса</tspan></text></g>
<text y="443.70" font-family='"Liberation Sans", Arial, sans-serif' font-size="39.50" fill="#000"><tspan x="1606.06" textLength="87.71" lengthAdjust="spacingAndGlyphs">MTR</tspan> <tspan x="1704.73" textLength="178.80" lengthAdjust="spacingAndGlyphs">15-14/14,</tspan> <tspan x="1894.79" textLength="111.46" lengthAdjust="spacingAndGlyphs">3*400</tspan> <tspan x="2019.96" textLength="40.74" lengthAdjust="spacingAndGlyphs">V,</tspan> <tspan x="2071.52" textLength="98.16" lengthAdjust="spacingAndGlyphs">50Hz</tspan></text>
<text x="85.70" y="431.90" font-family='"Liberation Sans", Arial, sans-serif' font-size="40.40" fill="#000" textLength="29.79" lengthAdjust="spacingAndGlyphs">H</text>
<text x="72.89" y="480.00" font-family='"Liberation Sans", Arial, sans-serif' font-size="38.00" fill="#000" textLength="53.45" lengthAdjust="spacingAndGlyphs">[м]</text>
<text x="2241.13" y="431.20" font-family='"Liberation Sans", Arial, sans-serif' font-size="38.00" fill="#000" textLength="57.78" lengthAdjust="spacingAndGlyphs">eta</text>
<text x="2237.48" y="480.00" font-family='"Liberation Sans", Arial, sans-serif' font-size="38.00" fill="#000" textLength="60.35" lengthAdjust="spacingAndGlyphs">[%]</text>
<text x="2016.06" y="1451.00" font-family='"Liberation Sans", Arial, sans-serif' font-size="37.00" fill="#000" textLength="140.02" lengthAdjust="spacingAndGlyphs">Q [м³/ч]</text>
<text x="81.34" y="1503.50" font-family='"Liberation Sans", Arial, sans-serif' font-size="39.40" fill="#000" textLength="28.05" lengthAdjust="spacingAndGlyphs">P</text>
<text x="49.11" y="1551.70" font-family='"Liberation Sans", Arial, sans-serif' font-size="39.40" fill="#000" textLength="89.20" lengthAdjust="spacingAndGlyphs">[кВт]</text>
<text x="2229.30" y="1503.70" font-family='"Liberation Sans", Arial, sans-serif' font-size="39.30" fill="#000" textLength="114.54" lengthAdjust="spacingAndGlyphs">NPSH</text>
<text x="2257.65" y="1551.30" font-family='"Liberation Sans", Arial, sans-serif' font-size="37.00" fill="#000" textLength="52.44" lengthAdjust="spacingAndGlyphs">[м]</text>
<text x="1967.61" y="1559.60" font-family='"Liberation Sans", Arial, sans-serif' font-size="38.50" fill="#114b8c" textLength="48.82" lengthAdjust="spacingAndGlyphs">P1</text>
<text x="1967.42" y="1651.80" font-family='"Liberation Sans", Arial, sans-serif' font-size="37.70" fill="#114b8c" textLength="51.62" lengthAdjust="spacingAndGlyphs">P2</text>
<text x="139.93" y="1411.10" font-family='"Liberation Sans", Arial, sans-serif' font-size="38.30" fill="#000" textLength="21.90" lengthAdjust="spacingAndGlyphs">0</text>
<text x="117.39" y="1327.50" font-family='"Liberation Sans", Arial, sans-serif' font-size="38.30" fill="#000" textLength="49.07" lengthAdjust="spacingAndGlyphs">20</text>
<text x="119.75" y="1246.80" font-family='"Liberation Sans", Arial, sans-serif' font-size="38.30" fill="#000" textLength="46.62" lengthAdjust="spacingAndGlyphs">40</text>
<text x="117.39" y="1163.40" font-family='"Liberation Sans", Arial, sans-serif' font-size="38.30" fill="#000" textLength="49.07" lengthAdjust="spacingAndGlyphs">60</text>
<text x="118.88" y="1079.40" font-family='"Liberation Sans", Arial, sans-serif' font-size="38.30" fill="#000" textLength="47.53" lengthAdjust="spacingAndGlyphs">80</text>
<text x="96.98" y="995.50" font-family='"Liberation Sans", Arial, sans-serif' font-size="38.30" fill="#000" textLength="69.43" lengthAdjust="spacingAndGlyphs">100</text>
<text x="96.65" y="911.20" font-family='"Liberation Sans", Arial, sans-serif' font-size="38.30" fill="#000" textLength="70.19" lengthAdjust="spacingAndGlyphs">120</text>
<text x="96.65" y="827.50" font-family='"Liberation Sans", Arial, sans-serif' font-size="38.30" fill="#000" textLength="70.19" lengthAdjust="spacingAndGlyphs">140</text>
<text x="96.65" y="747.60" font-family='"Liberation Sans", Arial, sans-serif' font-size="38.30" fill="#000" textLength="70.19" lengthAdjust="spacingAndGlyphs">160</text>
<text x="95.70" y="663.40" font-family='"Liberation Sans", Arial, sans-serif' font-size="38.30" fill="#000" textLength="71.26" lengthAdjust="spacingAndGlyphs">180</text>
<text x="94.32" y="579.50" font-family='"Liberation Sans", Arial, sans-serif' font-size="38.30" fill="#000" textLength="72.67" lengthAdjust="spacingAndGlyphs">200</text>
<text x="2204.48" y="1411.10" font-family='"Liberation Sans", Arial, sans-serif' font-size="38.30" fill="#000" textLength="21.08" lengthAdjust="spacingAndGlyphs">0</text>
<text x="2202.55" y="1327.50" font-family='"Liberation Sans", Arial, sans-serif' font-size="38.30" fill="#000" textLength="47.77" lengthAdjust="spacingAndGlyphs">20</text>
<text x="2202.94" y="1246.80" font-family='"Liberation Sans", Arial, sans-serif' font-size="38.30" fill="#000" textLength="47.37" lengthAdjust="spacingAndGlyphs">40</text>
<text x="2202.55" y="1163.40" font-family='"Liberation Sans", Arial, sans-serif' font-size="38.30" fill="#000" textLength="47.77" lengthAdjust="spacingAndGlyphs">60</text>
<text x="2202.78" y="1079.40" font-family='"Liberation Sans", Arial, sans-serif' font-size="38.30" fill="#000" textLength="47.53" lengthAdjust="spacingAndGlyphs">80</text>
<text x="2204.08" y="995.50" font-family='"Liberation Sans", Arial, sans-serif' font-size="38.30" fill="#000" textLength="69.43" lengthAdjust="spacingAndGlyphs">100</text>
<text x="183.10" y="1451.20" font-family='"Liberation Sans", Arial, sans-serif' font-size="37.70" fill="#000" textLength="23.65" lengthAdjust="spacingAndGlyphs">0</text>
<text x="329.14" y="1451.20" font-family='"Liberation Sans", Arial, sans-serif' font-size="37.70" fill="#000" textLength="26.28" lengthAdjust="spacingAndGlyphs">2</text>
<text x="483.89" y="1451.20" font-family='"Liberation Sans", Arial, sans-serif' font-size="37.70" fill="#000" textLength="22.47" lengthAdjust="spacingAndGlyphs">4</text>
<text x="634.80" y="1451.20" font-family='"Liberation Sans", Arial, sans-serif' font-size="37.70" fill="#000" textLength="24.42" lengthAdjust="spacingAndGlyphs">6</text>
<text x="786.29" y="1451.20" font-family='"Liberation Sans", Arial, sans-serif' font-size="37.70" fill="#000" textLength="24.85" lengthAdjust="spacingAndGlyphs">8</text>
<text x="927.75" y="1451.20" font-family='"Liberation Sans", Arial, sans-serif' font-size="37.70" fill="#000" textLength="46.73" lengthAdjust="spacingAndGlyphs">10</text>
<text x="1075.82" y="1451.20" font-family='"Liberation Sans", Arial, sans-serif' font-size="37.70" fill="#000" textLength="47.09" lengthAdjust="spacingAndGlyphs">12</text>
<text x="1227.88" y="1451.20" font-family='"Liberation Sans", Arial, sans-serif' font-size="37.70" fill="#000" textLength="46.26" lengthAdjust="spacingAndGlyphs">14</text>
<text x="1380.54" y="1451.20" font-family='"Liberation Sans", Arial, sans-serif' font-size="37.70" fill="#000" textLength="46.85" lengthAdjust="spacingAndGlyphs">16</text>
<text x="1533.25" y="1451.20" font-family='"Liberation Sans", Arial, sans-serif' font-size="37.70" fill="#000" textLength="45.16" lengthAdjust="spacingAndGlyphs">18</text>
<text x="1678.12" y="1451.20" font-family='"Liberation Sans", Arial, sans-serif' font-size="37.70" fill="#000" textLength="48.42" lengthAdjust="spacingAndGlyphs">20</text>
<text x="1830.20" y="1451.20" font-family='"Liberation Sans", Arial, sans-serif' font-size="37.70" fill="#000" textLength="48.90" lengthAdjust="spacingAndGlyphs">22</text>
<text x="120.98" y="1651.80" font-family='"Liberation Sans", Arial, sans-serif' font-size="37.70" fill="#000" textLength="44.72" lengthAdjust="spacingAndGlyphs">10</text>
<text x="139.65" y="1815.10" font-family='"Liberation Sans", Arial, sans-serif' font-size="37.70" fill="#000" textLength="22.95" lengthAdjust="spacingAndGlyphs">5</text>
<text x="139.65" y="1978.70" font-family='"Liberation Sans", Arial, sans-serif' font-size="37.70" fill="#000" textLength="22.95" lengthAdjust="spacingAndGlyphs">0</text>
<text x="2205.35" y="1651.80" font-family='"Liberation Sans", Arial, sans-serif' font-size="37.70" fill="#000" textLength="45.16" lengthAdjust="spacingAndGlyphs">10</text>
<text x="2203.32" y="1815.50" font-family='"Liberation Sans", Arial, sans-serif' font-size="37.70" fill="#000" textLength="23.42" lengthAdjust="spacingAndGlyphs">5</text>
<text x="2203.77" y="1979.00" font-family='"Liberation Sans", Arial, sans-serif' font-size="37.70" fill="#000" textLength="22.72" lengthAdjust="spacingAndGlyphs">0</text>
</svg>
</body></html>
